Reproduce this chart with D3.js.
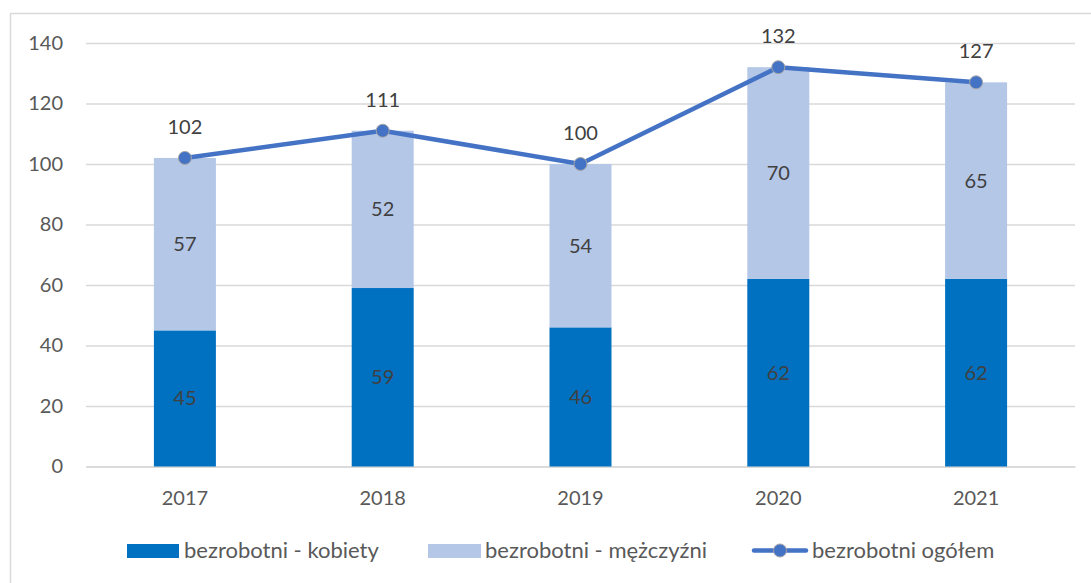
<!DOCTYPE html>
<html>
<head>
<meta charset="utf-8">
<script src="https://cdn.jsdelivr.net/npm/d3@7"></script>
<style>
  body { margin: 0; background: #fff; }
  text { font-family: Lato, "Liberation Sans", sans-serif; fill: #595959; }
</style>
</head>
<body>
<div id="chart"></div>
<script>
      var years = ['2017', '2018', '2019', '2020', '2021'];
      var kobiety = [45, 59, 46, 62, 62];
      var mezczyzni = [57, 52, 54, 70, 65];
      var ogolem = [102, 111, 100, 132, 127];
      var yTicks = [0, 20, 40, 60, 80, 100, 120, 140];

      var width = 1091;
      var height = 583;
      var plotLeft = 86, plotRight = 1075, plotTop = 43, plotBottom = 466.5;

      var svg = d3.select('#chart').append('svg')
          .attr('width', width)
          .attr('height', height)

      // chart border
      svg.append('rect')
          .attr('x', 10.5).attr('y', 13.5)
          .attr('width', 1100).attr('height', 600)
          .attr('fill', 'none')
          .attr('stroke', '#d9d9d9')
          .attr('stroke-width', 1.5)

      var xScale = d3.scaleBand()
          .domain(years)
          .range([plotLeft, plotRight])

      var yScale = d3.scaleLinear()
          .domain([0, 140])
          .range([plotBottom, plotTop])

      var barW = 62;
      var numSize = '20px';

      // gridlines + y labels
      var yAxis = d3.axisLeft(yScale)
          .tickValues(yTicks)
          .tickSize(-(plotRight - plotLeft))
          .tickPadding(23)
      var gy = svg.append('g')
          .attr('transform', 'translate(' + plotLeft + ',0)')
          .call(yAxis)
      gy.select('.domain').remove()
      gy.selectAll('line').attr('stroke', '#d9d9d9').attr('stroke-width', 1.5)
      gy.selectAll('text').style('font-size', numSize).style('font-family', 'Lato').attr('fill', '#595959')

      var xAxis = d3.axisBottom(xScale).tickSize(0).tickPadding(24)
      var gx = svg.append('g')
          .attr('transform', 'translate(0,' + plotBottom + ')')
          .call(xAxis)
      gx.select('.domain').attr('stroke', '#d9d9d9').attr('stroke-width', 1.5)
      gx.selectAll('text').style('font-size', numSize).style('font-family', 'Lato').attr('fill', '#595959')

      var cx = function (i) { return xScale(years[i]) + xScale.bandwidth() / 2; };

      // women bars
      svg.selectAll('rect.k')
          .data(kobiety)
          .enter()
          .append('rect')
              .attr('class', 'k')
              .attr('x', (d, i) => cx(i) - barW / 2)
              .attr('width', barW)
              .attr('y', d => yScale(d))
              .attr('height', d => yScale(0) - yScale(d))
              .attr('fill', '#0070C0')

      // men bars stacked on top
      svg.selectAll('rect.m')
          .data(mezczyzni)
          .enter()
          .append('rect')
              .attr('class', 'm')
              .attr('x', (d, i) => cx(i) - barW / 2)
              .attr('width', barW)
              .attr('y', (d, i) => yScale(kobiety[i] + d))
              .attr('height', d => yScale(0) - yScale(d))
              .attr('fill', '#B4C7E7')

      // bar labels
      svg.selectAll('text.kl')
          .data(kobiety)
          .enter()
          .append('text')
              .attr('class', 'kl')
              .attr('x', (d, i) => cx(i))
              .attr('y', d => yScale(d / 2))
              .attr('dy', '0.35em')
              .attr('text-anchor', 'middle')
              .style('font-size', numSize)
              .style('fill', '#404040')
              .text(d => d)

      svg.selectAll('text.ml')
          .data(mezczyzni)
          .enter()
          .append('text')
              .attr('class', 'ml')
              .attr('x', (d, i) => cx(i))
              .attr('y', (d, i) => yScale(kobiety[i] + d / 2))
              .attr('dy', '0.35em')
              .attr('text-anchor', 'middle')
              .style('font-size', numSize)
              .style('fill', '#404040')
              .text(d => d)

      // total line
      var line = d3.line()
          .x((d, i) => cx(i))
          .y(d => yScale(d))
      svg.append('path')
          .datum(ogolem)
          .attr('d', line)
          .attr('fill', 'none')
          .attr('stroke', '#4472C4')
          .attr('stroke-width', 4.5)
          .attr('stroke-linejoin', 'round')

      svg.selectAll('circle.pt')
          .data(ogolem)
          .enter()
          .append('circle')
              .attr('class', 'pt')
              .attr('cx', (d, i) => cx(i))
              .attr('cy', d => yScale(d))
              .attr('r', 6.5)
              .attr('fill', '#4472C4')
              .attr('stroke', '#a5a5a5')
              .attr('stroke-width', 1)

      svg.selectAll('text.tl')
          .data(ogolem)
          .enter()
          .append('text')
              .attr('class', 'tl')
              .attr('x', (d, i) => cx(i))
              .attr('y', d => yScale(d) - 31)
              .attr('dy', '0.35em')
              .attr('text-anchor', 'middle')
              .style('font-size', numSize)
              .style('fill', '#404040')
              .text(d => d)

      // legend
      var lg = svg.append('g')
      var ly = 550.5;
      var legSize = '22px';
      lg.append('rect').attr('x', 127).attr('y', 544).attr('width', 52).attr('height', 14).attr('fill', '#0070C0')
      lg.append('text').attr('x', 184).attr('y', ly).attr('dy', '0.35em').style('font-size', legSize).text('bezrobotni - kobiety')
      lg.append('rect').attr('x', 428).attr('y', 544).attr('width', 53).attr('height', 14).attr('fill', '#B4C7E7')
      lg.append('text').attr('x', 485).attr('y', ly).attr('dy', '0.35em').style('font-size', legSize).text('bezrobotni - mężczyźni')
      lg.append('line').attr('x1', 754).attr('x2', 806).attr('y1', ly).attr('y2', ly)
          .attr('stroke', '#4472C4').attr('stroke-width', 4.5).attr('stroke-linecap', 'round')
      lg.append('circle').attr('cx', 780).attr('cy', ly).attr('r', 6.5)
          .attr('fill', '#4472C4').attr('stroke', '#a5a5a5').attr('stroke-width', 1)
      lg.append('text').attr('x', 812).attr('y', ly).attr('dy', '0.35em').style('font-size', legSize).text('bezrobotni ogółem')
</script>
</body>
</html>
